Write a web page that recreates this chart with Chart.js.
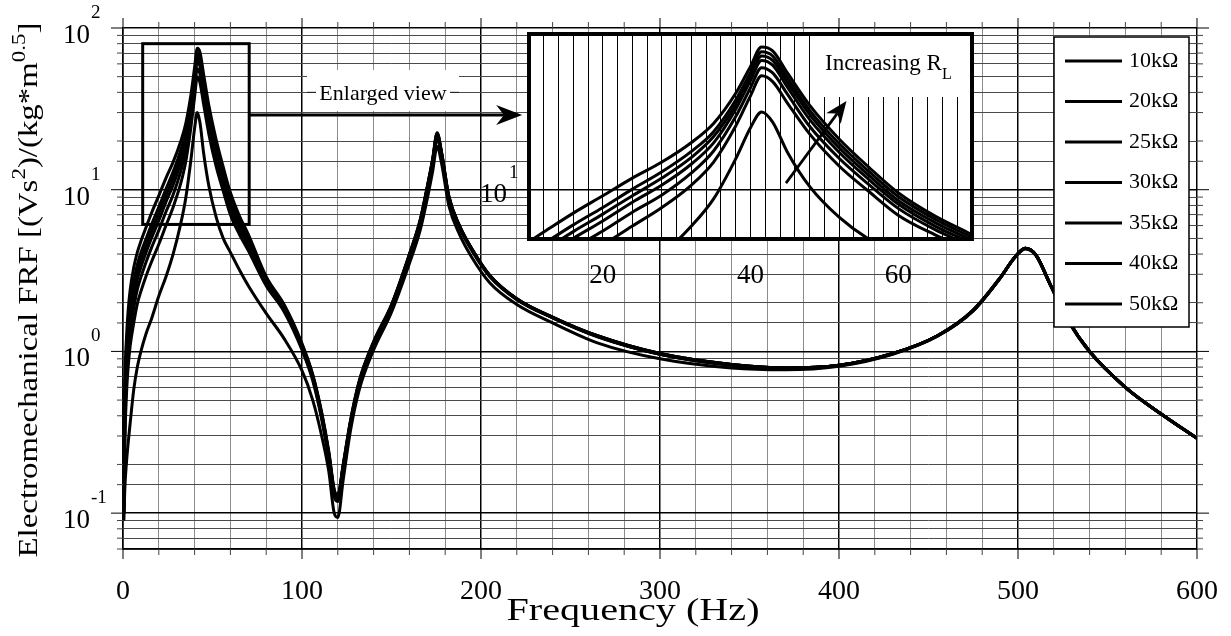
<!DOCTYPE html>
<html>
<head>
<meta charset="utf-8">
<title>Electromechanical FRF</title>
<script src="https://cdn.jsdelivr.net/npm/chart.js@4.4.1/dist/chart.umd.min.js"></script>
<style>
  html, body { margin: 0; padding: 0; background: #fff; }
  #wrap { position: relative; width: 1231px; height: 636px; }
  #frf { position: absolute; left: 0; top: 0; }
  #zoomed { position: absolute; left: 460px; top: 30px; }
</style>
</head>
<body>
<div id="wrap">
  <canvas id="frf" width="1231" height="636"></canvas>
  <canvas id="zoomed" width="540" height="270"></canvas>
</div>
<script>
// frequency points (Hz)
const freq = [0.5, 1, 2, 3, 4, 6, 8, 10, 13, 16, 20, 24, 28, 32, 35, 38, 40, 41.5, 43, 45,
  48, 52, 56, 60, 65, 70, 80, 90, 100, 106, 111, 115, 118, 120, 123, 127, 132, 140, 150, 160,
  166, 170, 173, 175.5, 178, 182, 188, 195, 205, 220, 240, 265, 300, 340, 370, 400, 430, 455, 475, 490,
  498, 504, 510, 518, 528, 540, 560, 580, 600];

// FRF magnitude for each load resistance
const frf10k = [0.09, 0.14, 0.21, 0.28, 0.36, 0.58, 0.8, 1.0, 1.3, 1.6, 2.2, 2.9, 4.0, 6.0, 8.8, 15.5, 24, 30, 26, 17,
  10.5, 6.8, 5.0, 4.1, 3.2, 2.55, 1.72, 1.2, 0.76, 0.5, 0.3, 0.18, 0.1, 0.094, 0.16, 0.32, 0.58, 1.02, 1.75, 3.5,
  5.6, 8.8, 13, 18.5, 14.5, 8.0, 5.3, 3.8, 2.65, 1.95, 1.5, 1.13, 0.9, 0.79, 0.77, 0.81, 0.96, 1.24, 1.78, 2.83,
  3.78, 4.3, 3.92, 2.58, 1.55, 0.99, 0.6, 0.41, 0.29];
const frf20k = [0.1, 0.26, 0.56, 0.83, 1.08, 1.5, 1.97, 2.35, 2.95, 3.6, 4.6, 6.0, 7.8, 10.7, 14.8, 24.6, 37.6, 50, 46, 34,
  22, 14, 9.8, 7.0, 5.3, 4.2, 2.55, 1.76, 1.02, 0.66, 0.38, 0.215, 0.126, 0.118, 0.185, 0.34, 0.61, 1.08, 1.83, 3.75,
  6.05, 9.8, 14.3, 20.8, 15.8, 8.7, 5.8, 4.18, 2.89, 2.09, 1.61, 1.23, 0.96, 0.82, 0.78, 0.815, 0.965, 1.245, 1.79, 2.84,
  3.79, 4.33, 3.94, 2.59, 1.56, 1.0, 0.6, 0.41, 0.29];
const frf25k = [0.1, 0.32, 0.7, 1.04, 1.34, 1.85, 2.42, 2.88, 3.6, 4.4, 5.6, 7.3, 9.3, 12.7, 17.3, 28.1, 42.2, 56, 52, 38.5,
  24.5, 15.6, 10.8, 7.7, 5.7, 4.5, 2.65, 1.82, 1.05, 0.68, 0.39, 0.22, 0.13, 0.122, 0.19, 0.35, 0.63, 1.1, 1.87, 3.85,
  6.2, 10.0, 14.7, 21.4, 16.2, 8.9, 5.88, 4.22, 2.91, 2.1, 1.62, 1.24, 0.96, 0.82, 0.79, 0.82, 0.97, 1.25, 1.79, 2.84,
  3.79, 4.34, 3.94, 2.6, 1.56, 1.0, 0.6, 0.41, 0.29];
const frf30k = [0.105, 0.37, 0.81, 1.2, 1.56, 2.15, 2.79, 3.31, 4.13, 5.05, 6.45, 8.4, 10.7, 14.4, 19.4, 31.2, 46.7, 62, 58, 42.5,
  27, 17, 11.6, 8.2, 6.0, 4.7, 2.72, 1.86, 1.07, 0.69, 0.4, 0.23, 0.134, 0.125, 0.192, 0.355, 0.64, 1.12, 1.9, 3.9,
  6.3, 10.2, 15.0, 21.8, 16.5, 9.0, 5.92, 4.25, 2.92, 2.11, 1.62, 1.24, 0.96, 0.83, 0.79, 0.82, 0.97, 1.25, 1.8, 2.85,
  3.8, 4.34, 3.95, 2.6, 1.56, 1.0, 0.6, 0.41, 0.29];
const frf35k = [0.11, 0.42, 0.93, 1.37, 1.78, 2.44, 3.12, 3.7, 4.55, 5.55, 7.1, 9.2, 11.8, 15.8, 21.2, 33.2, 49.6, 66, 62, 45.5,
  29, 18.1, 12.3, 8.6, 6.3, 4.9, 2.8, 1.89, 1.09, 0.7, 0.41, 0.23, 0.136, 0.127, 0.195, 0.36, 0.645, 1.13, 1.92, 3.93,
  6.4, 10.3, 15.2, 22.0, 16.7, 9.05, 5.95, 4.27, 2.93, 2.11, 1.62, 1.25, 0.97, 0.83, 0.79, 0.82, 0.97, 1.25, 1.8, 2.85,
  3.8, 4.34, 3.95, 2.6, 1.56, 1.0, 0.6, 0.41, 0.29];
const frf40k = [0.115, 0.47, 1.03, 1.52, 1.97, 2.7, 3.44, 4.08, 5.0, 6.1, 7.8, 10.1, 12.9, 17.2, 22.7, 35.5, 52.4, 70, 66, 48.5,
  30.8, 19.2, 13, 9.1, 6.6, 5.1, 2.85, 1.92, 1.1, 0.71, 0.41, 0.235, 0.138, 0.128, 0.198, 0.365, 0.65, 1.14, 1.93, 3.97,
  6.45, 10.4, 15.4, 22.3, 16.8, 9.1, 5.97, 4.28, 2.94, 2.12, 1.63, 1.25, 0.97, 0.83, 0.79, 0.82, 0.97, 1.25, 1.8, 2.85,
  3.8, 4.35, 3.95, 2.6, 1.56, 1.0, 0.6, 0.41, 0.29];
const frf50k = [0.12, 0.55, 1.25, 1.85, 2.4, 3.3, 4.1, 4.8, 5.9, 7.2, 9.2, 11.8, 14.8, 19.5, 25.5, 39, 57, 75, 71, 52,
  33, 20.5, 13.8, 9.6, 6.9, 5.3, 2.9, 1.95, 1.12, 0.72, 0.42, 0.24, 0.14, 0.13, 0.2, 0.37, 0.66, 1.15, 1.95, 4.0,
  6.5, 10.5, 15.5, 22.5, 17, 9.2, 6.0, 4.3, 2.95, 2.12, 1.63, 1.25, 0.97, 0.83, 0.79, 0.82, 0.97, 1.25, 1.8, 2.85,
  3.8, 4.35, 3.95, 2.6, 1.56, 1.0, 0.6, 0.41, 0.29];

const seriesLabels = ['10kΩ', '20kΩ', '25kΩ', '30kΩ', '35kΩ', '40kΩ', '50kΩ'];
const seriesValues = [frf10k, frf20k, frf25k, frf30k, frf35k, frf40k, frf50k];

// axis ticks
const freqGrid = [0, 20, 40, 60, 80, 100, 120, 140, 160, 180, 200, 220, 240, 260, 280, 300,
  320, 340, 360, 380, 400, 420, 440, 460, 480, 500, 520, 540, 560, 580, 600];
const freqLabels = [0, 100, 200, 300, 400, 500, 600];
const decadeLabels = [0.1, 1, 10, 100];
const zoomGrid = [10, 12, 14, 16, 18, 20, 22, 24, 26, 28, 30, 32, 34, 36, 38, 40,
  42, 44, 46, 48, 50, 52, 54, 56, 58, 60, 62, 64, 66, 68, 70];
const zoomLabels = [20, 40, 60];

// annotation anchors in data units
const zoomBox = { f0: 11, f1: 70.5, v0: 6.1, v1: 80 };
const zoomArrow = { f0: 70.5, f1: 223, v: 29 };
const trendArrow = { f0: 44.8, v0: 11, f1: 53, v1: 35 };

const SERIF = '"Liberation Serif", "Times New Roman", serif';

function isDecade(v) {
  const l = Math.log10(v);
  return Math.abs(l - Math.round(l)) < 1e-9;
}

function makeDatasets() {
  return seriesLabels.map((lab, k) => ({
    label: lab,
    data: freq.map((f, i) => ({ x: f, y: seriesValues[k][i] })),
    borderColor: '#000',
    borderWidth: 3,
    pointRadius: 0,
    fill: false,
    cubicInterpolationMode: 'monotone'
  }));
}

function font(size) { return size + 'px ' + SERIF; }

function richWidth(ctx, parts, size) {
  let w = 0;
  for (const p of parts) {
    ctx.font = font(p.sup || p.sub ? size * 0.7 : size);
    w += ctx.measureText(p.t).width;
  }
  return w;
}

function drawRich(ctx, parts, size, x, y) {
  let cx = x;
  for (const p of parts) {
    const s = p.sup || p.sub ? size * 0.7 : size;
    ctx.font = font(s);
    let dy = 0;
    if (p.sup) dy = -size * 0.42;
    if (p.sub) dy = size * 0.38;
    ctx.fillText(p.t, cx, y + dy);
    cx += ctx.measureText(p.t).width;
  }
}

// line with a notched, filled arrow head at (x1, y1)
function drawArrow(ctx, x0, y0, x1, y1, lw, len, half) {
  const ang = Math.atan2(y1 - y0, x1 - x0);
  const cos = Math.cos(ang), sin = Math.sin(ang);
  const nx = x1 - cos * len * 0.7, ny = y1 - sin * len * 0.7;
  ctx.lineWidth = lw;
  ctx.beginPath();
  ctx.moveTo(x0, y0);
  ctx.lineTo(nx, ny);
  ctx.stroke();
  const bx = x1 - cos * len, by = y1 - sin * len;
  ctx.beginPath();
  ctx.moveTo(x1, y1);
  ctx.lineTo(bx - sin * half, by + cos * half);
  ctx.lineTo(nx, ny);
  ctx.lineTo(bx + sin * half, by - cos * half);
  ctx.closePath();
  ctx.fill();
}

const frfDecor = {
  id: 'frfDecor',
  beforeDraw(chart) {
    const ctx = chart.ctx;
    ctx.save();
    ctx.fillStyle = '#fff';
    ctx.fillRect(0, 0, chart.width, chart.height);
    ctx.restore();
  },
  afterDraw(chart) {
    const { ctx, chartArea: a, scales: { x, y } } = chart;
    ctx.save();
    ctx.fillStyle = '#000';

    // outward tick marks on all four sides
    ctx.lineWidth = 1;
    for (const t of x.ticks) {
      const px = x.getPixelForValue(t.value);
      const major = t.value % 100 === 0;
      const len = major ? 10 : 6;
      ctx.strokeStyle = major ? '#000' : '#444';
      ctx.beginPath();
      ctx.moveTo(px, a.bottom); ctx.lineTo(px, a.bottom + len);
      ctx.moveTo(px, a.top); ctx.lineTo(px, a.top - len);
      ctx.stroke();
    }
    for (const t of y.ticks) {
      const py = y.getPixelForValue(t.value);
      const major = isDecade(t.value);
      const len = major ? 12 : 6;
      ctx.strokeStyle = major ? '#000' : '#444';
      ctx.beginPath();
      ctx.moveTo(a.left, py); ctx.lineTo(a.left - len, py);
      ctx.moveTo(a.right, py); ctx.lineTo(a.right + len, py);
      ctx.stroke();
    }

    // tick labels
    ctx.textAlign = 'center';
    ctx.textBaseline = 'alphabetic';
    ctx.font = font(28);
    for (const v of freqLabels) {
      ctx.fillText(String(v), x.getPixelForValue(v), 599);
    }
    for (const v of decadeLabels) {
      const py = y.getPixelForValue(v);
      ctx.textAlign = 'right';
      ctx.font = font(27);
      ctx.fillText('10', 90, py + 15);
      ctx.textAlign = 'left';
      ctx.font = font(19);
      ctx.fillText(String(Math.round(Math.log10(v))), 91, py - 10);
    }

    // axis titles
    ctx.textAlign = 'left';
    const xt = [{ t: 'Frequency (Hz)' }];
    const xw = richWidth(ctx, xt, 31);
    ctx.save();
    ctx.translate(633, 620);
    ctx.scale(253 / xw, 1);
    drawRich(ctx, xt, 31, -xw / 2, 0);
    ctx.restore();

    const yt = [{ t: 'Electromechanical FRF [(Vs' }, { t: '2', sup: true },
      { t: ')/(kg*m' }, { t: '0.5', sup: true }, { t: ']' }];
    const yw = richWidth(ctx, yt, 28);
    ctx.save();
    ctx.translate(37, 290);
    ctx.rotate(-Math.PI / 2);
    ctx.scale(535 / yw, 1);
    drawRich(ctx, yt, 28, -yw / 2, 0);
    ctx.restore();

    // zoom rectangle around the first resonance
    ctx.strokeStyle = '#000';
    ctx.lineWidth = 3;
    const rx0 = x.getPixelForValue(zoomBox.f0), rx1 = x.getPixelForValue(zoomBox.f1);
    const ry0 = y.getPixelForValue(zoomBox.v1), ry1 = y.getPixelForValue(zoomBox.v0);
    ctx.strokeRect(rx0, ry0, rx1 - rx0, ry1 - ry0);

    // "Enlarged view" caption and arrow
    ctx.fillStyle = '#fff';
    ctx.fillRect(307, 70, 152, 41);
    ctx.strokeStyle = '#000';
    ctx.lineWidth = 1;
    const g40 = y.getPixelForValue(40);
    ctx.beginPath();
    ctx.moveTo(307, g40); ctx.lineTo(316, g40);
    ctx.moveTo(450, g40); ctx.lineTo(459, g40);
    ctx.stroke();
    ctx.fillStyle = '#000';
    ctx.font = font(22);
    ctx.textAlign = 'center';
    ctx.fillText('Enlarged view', 383, 100);
    const ay = y.getPixelForValue(zoomArrow.v);
    drawArrow(ctx, x.getPixelForValue(zoomArrow.f0), ay, x.getPixelForValue(zoomArrow.f1), ay, 3, 26, 10);

    // legend
    const lx = a.right - 143, ly = a.top + 9, lw = 135, lh = 290;
    ctx.fillStyle = '#fff';
    ctx.fillRect(lx, ly, lw, lh);
    ctx.strokeStyle = '#000';
    ctx.lineWidth = 1.5;
    ctx.strokeRect(lx, ly, lw, lh);
    ctx.fillStyle = '#000';
    ctx.textAlign = 'left';
    ctx.textBaseline = 'middle';
    ctx.font = font(22);
    chart.data.datasets.forEach((ds, i) => {
      const yy = ly + 24 + i * 40.5;
      ctx.lineWidth = 3;
      ctx.beginPath();
      ctx.moveTo(lx + 11, yy); ctx.lineTo(lx + 68, yy);
      ctx.stroke();
      ctx.fillText(ds.label, lx + 75, yy);
    });
    ctx.restore();
  }
};

new Chart(document.getElementById('frf'), {
  type: 'line',
  data: { datasets: makeDatasets() },
  options: {
    responsive: false,
    animation: false,
    events: [],
    layout: { padding: { top: 28, right: 34, left: 0, bottom: 0 } },
    plugins: { legend: { display: false }, tooltip: { enabled: false } },
    scales: {
      x: {
        type: 'linear', min: 0, max: 600,
        afterBuildTicks: s => { s.ticks = freqGrid.map(v => ({ value: v })); },
        afterFit: s => { s.height = 87; },
        ticks: { display: false },
        grid: {
          drawTicks: false,
          color: c => (c.tick && c.tick.value % 100 === 0) ? '#000' : '#8c8c8c',
          lineWidth: c => (c.tick && c.tick.value % 100 === 0) ? 1.5 : 1
        },
        border: { display: true, color: '#000', width: 1.5 }
      },
      y: {
        type: 'logarithmic', min: 0.06, max: 100,
        afterFit: s => { s.width = 123; },
        ticks: { display: false },
        grid: {
          drawTicks: false,
          color: c => (c.tick && isDecade(c.tick.value)) ? '#000' : '#4a4a4a',
          lineWidth: c => (c.tick && isDecade(c.tick.value)) ? 1.5 : 1
        },
        border: { display: true, color: '#000', width: 1.5 }
      }
    }
  },
  plugins: [frfDecor]
});

const zoomDecor = {
  id: 'zoomDecor',
  beforeDraw(chart) {
    const { ctx, chartArea: a } = chart;
    ctx.save();
    ctx.fillStyle = '#fff';
    ctx.fillRect(a.left, a.top, a.width, a.height);
    ctx.restore();
  },
  afterDatasetsDraw(chart) {
    const { ctx, chartArea: a, scales: { x, y } } = chart;
    ctx.save();
    // caption panel in the upper right corner
    ctx.fillStyle = '#fff';
    ctx.fillRect(a.right - 152, a.top, 152, 63);
    ctx.fillStyle = '#000';
    ctx.textAlign = 'left';
    ctx.textBaseline = 'alphabetic';
    drawRich(ctx, [{ t: 'Increasing R' }, { t: 'L', sub: true }], 23, a.right - 147, a.top + 36);
    ctx.strokeStyle = '#000';
    drawArrow(ctx, x.getPixelForValue(trendArrow.f0), y.getPixelForValue(trendArrow.v0),
      x.getPixelForValue(trendArrow.f1), y.getPixelForValue(trendArrow.v1), 2.7, 22, 9);
    ctx.restore();
  },
  afterDraw(chart) {
    const { ctx, chartArea: a, scales: { x, y } } = chart;
    ctx.save();
    ctx.strokeStyle = '#000';
    ctx.lineWidth = 4;
    ctx.strokeRect(a.left, a.top, a.width, a.height);
    ctx.fillStyle = '#000';
    ctx.textBaseline = 'alphabetic';
    ctx.textAlign = 'center';
    ctx.font = font(27);
    for (const v of zoomLabels) {
      ctx.fillText(String(v), x.getPixelForValue(v), 253);
    }
    const py = y.getPixelForValue(10);
    ctx.textAlign = 'right';
    ctx.fillText('10', 47, py + 12);
    ctx.textAlign = 'left';
    ctx.font = font(19);
    ctx.fillText('1', 49, py - 12);
    ctx.restore();
  }
};

new Chart(document.getElementById('zoomed'), {
  type: 'line',
  data: { datasets: makeDatasets() },
  options: {
    responsive: false,
    animation: false,
    events: [],
    layout: { padding: { left: 69, right: 28, top: 4, bottom: 61 } },
    plugins: { legend: { display: false }, tooltip: { enabled: false } },
    scales: {
      x: {
        type: 'linear', min: 10, max: 70,
        afterBuildTicks: s => { s.ticks = zoomGrid.map(v => ({ value: v })); },
        afterFit: s => { s.height = 0; },
        ticks: { display: false },
        grid: { drawTicks: false, color: '#000', lineWidth: 1 },
        border: { display: false }
      },
      y: {
        type: 'logarithmic', min: 5, max: 90,
        afterBuildTicks: s => { s.ticks = [{ value: 10 }]; },
        afterFit: s => { s.width = 0; },
        ticks: { display: false },
        grid: { drawTicks: false, color: '#000', lineWidth: 1.5 },
        border: { display: false }
      }
    }
  },
  plugins: [zoomDecor]
});
</script>
</body>
</html>
